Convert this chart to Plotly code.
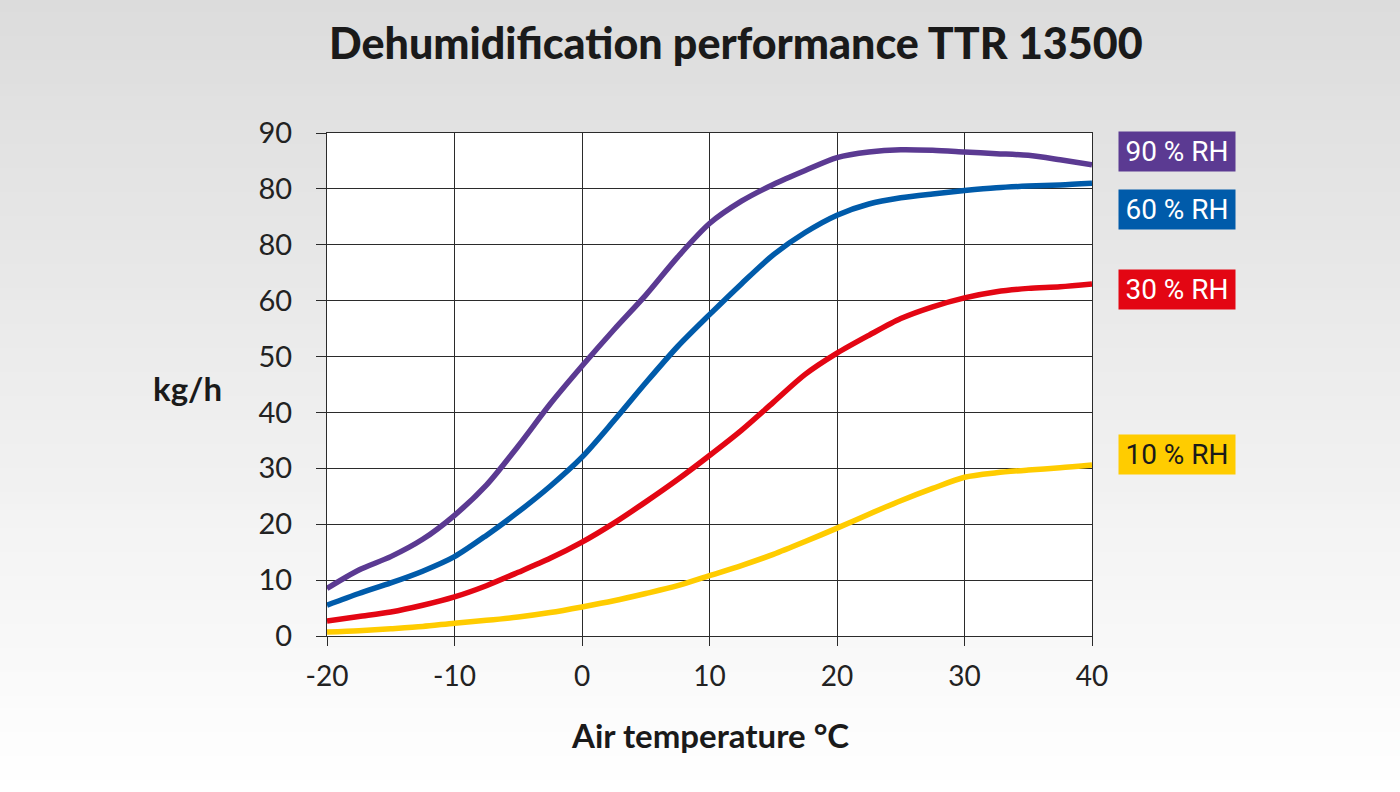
import plotly.graph_objects as go

# ---- data ----
temps = [-20, -17.5, -15, -12.5, -10, -7.5, -5, -2.5, 0, 2.5, 5, 7.5, 10, 12.5, 15, 17.5, 20, 22.5, 25, 27.5, 30, 32.5, 35, 37.5, 40]
rh90 = [8.5, 11.8, 14.2, 17.3, 21.6, 27.0, 34.0, 41.5, 48.3, 54.8, 61.0, 67.8, 73.8, 77.8, 80.8, 83.3, 85.6, 86.6, 87.0, 86.9, 86.6, 86.3, 86.0, 85.2, 84.3]
rh60 = [5.5, 7.6, 9.5, 11.6, 14.2, 18.0, 22.2, 26.8, 32.0, 38.5, 45.3, 51.8, 57.5, 63.0, 68.2, 72.2, 75.3, 77.3, 78.4, 79.1, 79.7, 80.2, 80.5, 80.7, 81.0]
rh30 = [2.7, 3.5, 4.3, 5.5, 7.0, 9.0, 11.4, 13.9, 16.8, 20.2, 24.0, 28.0, 32.3, 36.8, 41.8, 46.8, 50.6, 53.8, 56.8, 58.9, 60.5, 61.6, 62.2, 62.5, 63.0]
rh10 = [0.7, 0.95, 1.3, 1.7, 2.3, 2.8, 3.4, 4.2, 5.2, 6.3, 7.6, 9.0, 10.8, 12.6, 14.6, 16.9, 19.3, 21.8, 24.2, 26.4, 28.4, 29.2, 29.7, 30.1, 30.6]

series_names = ["90 % RH", "60 % RH", "30 % RH", "10 % RH"]
series_vals = [rh90, rh60, rh30, rh10]
series_colors = ["#5b3a92", "#005baa", "#e30613", "#ffcc00"]
label_text_colors = ["#ffffff", "#ffffff", "#ffffff", "#1a1a1a"]
label_y_values = [86.7, 76.4, 62.0, 32.4]

x_ticks = [-20, -10, 0, 10, 20, 30, 40]
x_tick_labels = ["-20", "-10", "0", "10", "20", "30", "40"]
y_ticks = [0, 10, 20, 30, 40, 50, 60, 70, 80, 90]
y_tick_labels = ["0", "10", "20", "30", "40", "50", "60", "80", "80", "90"]

title_text = "Dehumidification performance TTR 13500"
x_title = "Air temperature °C"
y_title = "kg/h"

# ---- layout geometry ----
W, H = 1400, 792
ML, MR, MT, MB = 327, 308, 133, 156
PW, PH = W - ML - MR, H - MT - MB


def px_x(px):
    return (px - ML) / PW


def px_y(py):
    return (H - MB - py) / PH


fig = go.Figure()

for name, vals, col in zip(series_names, series_vals, series_colors):
    fig.add_trace(go.Scatter(
        x=temps, y=vals, name=name, mode="lines",
        line=dict(color=col, width=5.5, shape="spline", smoothing=0.8),
        hoverinfo="x+y+name", cliponaxis=False,
    ))

shapes = []
# gradient background bands
nb = 66
bh = H / nb
for i in range(nb):
    y0p = i * bh
    y1p = (i + 1) * bh + 0.6
    c = int(round(220 + 35 * ((i + 0.5) / nb)))
    shapes.append(dict(type="rect", xref="paper", yref="paper",
                       x0=px_x(0), x1=px_x(W), y0=px_y(y1p), y1=px_y(y0p),
                       fillcolor=f"rgb({c},{c},{c})", line=dict(width=0), layer="below"))
# white plot area
shapes.append(dict(type="rect", xref="x", yref="y", x0=-20, x1=40, y0=0, y1=90,
                   fillcolor="white", line=dict(width=0), layer="below"))

annotations = []
for name, col, tc, yv in zip(series_names, series_colors, label_text_colors, label_y_values):
    annotations.append(dict(
        text=name, xref="paper", yref="y", x=px_x(1177), y=yv,
        xanchor="center", yanchor="middle", showarrow=False,
        bgcolor=col, width=116, height=39, borderpad=0,
        font=dict(family="Roboto", size=28, color=tc),
    ))
annotations.append(dict(
    text=y_title, xref="paper", yref="paper", x=px_x(187), y=px_y(388),
    xanchor="center", yanchor="middle", showarrow=False,
    font=dict(family="Lato", size=33, color="#1a1a1a", weight="bold"),
))
annotations.append(dict(
    text=x_title, xref="paper", yref="paper", x=px_x(710), y=px_y(735),
    xanchor="center", yanchor="middle", showarrow=False,
    font=dict(family="Lato", size=33, color="#1a1a1a", weight="bold"),
))
annotations.append(dict(
    text=title_text, xref="paper", yref="paper", x=px_x(736), y=px_y(42),
    xanchor="center", yanchor="middle", showarrow=False,
    font=dict(family="Lato", size=43, color="#1a1a1a", weight=900),
))

fig.update_layout(
    width=W, height=H,
    margin=dict(l=ML, r=MR, t=MT, b=MB, pad=0),
    paper_bgcolor="white",
    plot_bgcolor="rgba(0,0,0,0)",
    showlegend=False,
    shapes=shapes,
    annotations=annotations,
    xaxis=dict(
        range=[-20, 40], tickvals=x_ticks, ticktext=x_tick_labels,
        showgrid=True, gridcolor="#2b2b2b", gridwidth=1.3,
        zeroline=False, showline=True, linecolor="#2b2b2b", linewidth=1.3, mirror=True,
        ticks="outside", ticklen=9, tickwidth=1.3, tickcolor="#2b2b2b",
        ticklabelstandoff=6,
        tickfont=dict(family="Lato", size=28, color="#222222"),
        fixedrange=True,
    ),
    yaxis=dict(
        range=[0, 90], tickvals=y_ticks, ticktext=y_tick_labels,
        showgrid=True, gridcolor="#2b2b2b", gridwidth=1.3,
        zeroline=False, showline=True, linecolor="#2b2b2b", linewidth=1.3, mirror=True,
        ticks="outside", ticklen=10, tickwidth=1.3, tickcolor="#2b2b2b",
        ticklabelstandoff=18,
        tickfont=dict(family="Lato", size=29, color="#222222"),
        fixedrange=True,
    ),
)

fig.write_html("out.html", config={"displayModeBar": False},
               post_script="document.body.style.margin='0';document.body.style.padding='0';")
